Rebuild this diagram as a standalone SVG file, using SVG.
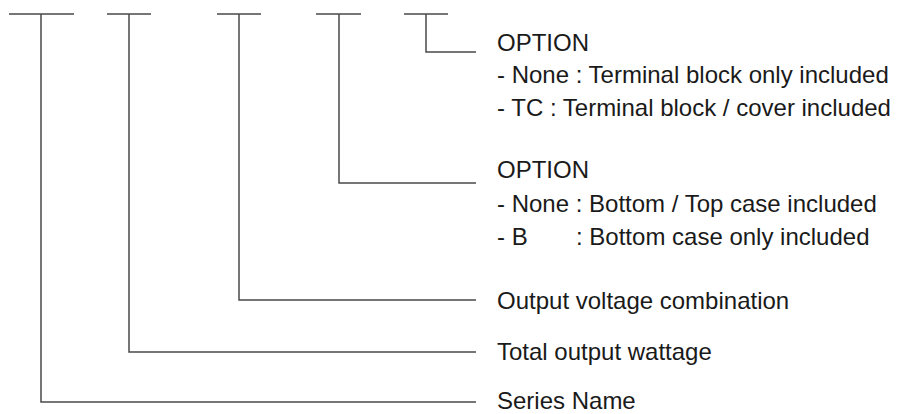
<svg xmlns="http://www.w3.org/2000/svg" width="899" height="414" viewBox="0 0 899 414">
<style>
.ln{fill:none;stroke:#4a4a4a;stroke-width:1.5}
.tx{font-family:"Liberation Sans",Arial,sans-serif;font-size:24px;fill:#1a1a1a}
</style>
<rect width="899" height="414" fill="#ffffff"/>
<g id="connectors">
<path class="ln" d="M9 14H74M41 14V402H476"/>
<path class="ln" d="M107 14H151M129 14V352H476"/>
<path class="ln" d="M217 14H261M239 14V300H476"/>
<path class="ln" d="M316 14H361M339 14V183H476"/>
<path class="ln" d="M404 14H448M426 14V52H476"/>
</g>
<g id="option-terminal">
<text class="tx" x="497" y="51">OPTION</text>
<text class="tx" x="497" y="83">- None : Terminal block only included</text>
<text class="tx" x="497" y="116">- TC : Terminal block / cover included</text>
</g>
<g id="option-case">
<text class="tx" x="497" y="178">OPTION</text>
<text class="tx" x="497" y="212">- None : Bottom / Top case included</text>
<text class="tx" x="497" y="245">- B<tspan x="576">: Bottom case only included</tspan></text>
</g>
<g id="output-voltage">
<text class="tx" x="497" y="309">Output voltage combination</text>
</g>
<g id="total-wattage">
<text class="tx" x="497" y="360">Total output wattage</text>
</g>
<g id="series-name">
<text class="tx" x="497" y="409">Series Name</text>
</g>
</svg>
